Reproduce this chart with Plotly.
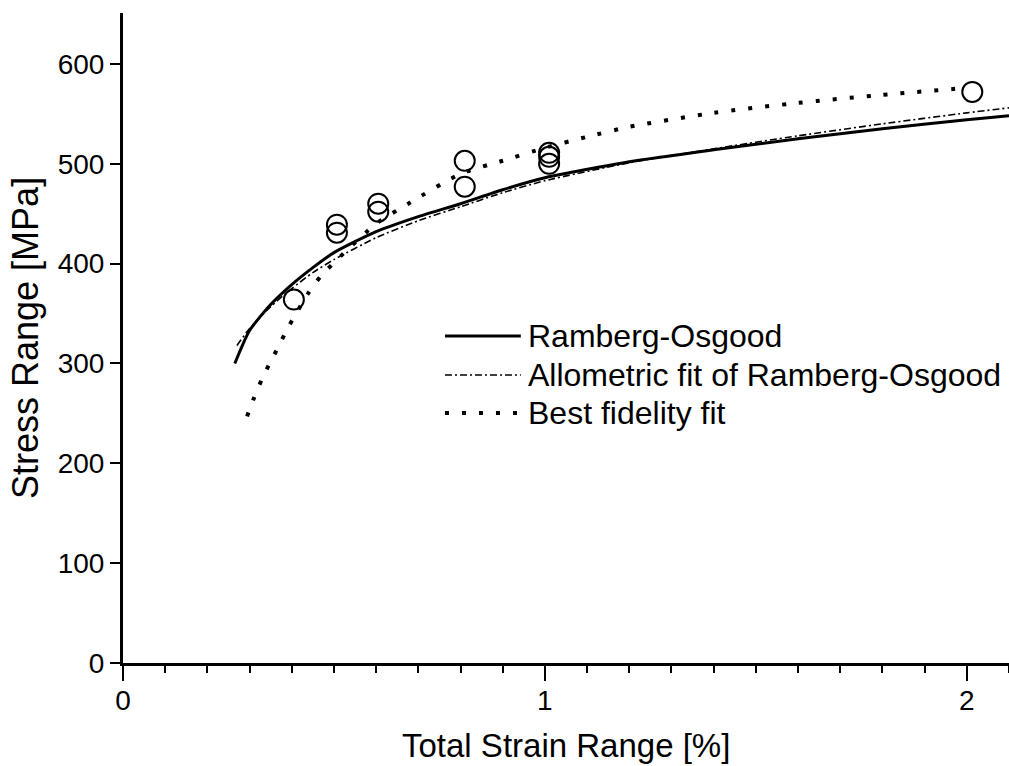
import plotly.graph_objects as go

# measured data points (open circles)
strain_pts = [0.405, 0.507, 0.507, 0.605, 0.605, 0.81, 0.81, 1.01, 1.01, 1.01, 2.013]
stress_pts = [364, 439, 431, 460, 452, 503, 477, 511, 507, 500, 572]

# Ramberg-Osgood curve
ro_x = [0.265, 0.30, 0.35, 0.40, 0.45, 0.50, 0.60, 0.70, 0.80, 0.90, 1.00, 1.20, 1.40, 1.60, 1.80, 2.00, 2.10]
ro_y = [300, 333, 359, 379, 396, 411, 432, 447, 460, 474, 486, 502, 514, 525, 535, 544, 548]

# Allometric fit of Ramberg-Osgood
al_x = [0.27, 0.30, 0.35, 0.40, 0.45, 0.50, 0.60, 0.70, 0.80, 0.90, 1.00, 1.20, 1.40, 1.60, 1.80, 2.00, 2.10]
al_y = [318, 335, 357, 375, 391, 404, 426, 443, 457, 471, 483, 501, 515, 528, 540, 551, 556]

# Best fidelity fit
bf_x = [0.294, 0.31, 0.33, 0.35, 0.37, 0.39, 0.44, 0.47, 0.51, 0.60, 0.68, 0.80, 0.90, 1.00, 1.10, 1.20, 1.40, 1.60, 1.80, 2.00]
bf_y = [247, 265, 285, 302, 318, 335, 371, 388, 405, 440, 461, 490, 503, 516, 527, 537, 551, 561, 569, 576]

legend_names = ["Ramberg-Osgood", "Allometric fit of Ramberg-Osgood", "Best fidelity fit"]

FONT = "Liberation Sans, Arial, sans-serif"
solid_style = dict(color="black", width=3)
dashdot_style = dict(color="black", width=1.6, dash="7px,3px,2px,3px")
dot_style = dict(color="black", width=4, dash="4px,13px")

fig = go.Figure()
fig.add_trace(go.Scatter(x=ro_x, y=ro_y, mode="lines", line=dict(shape="spline", smoothing=0.6, **solid_style),
                         showlegend=False))
fig.add_trace(go.Scatter(x=al_x, y=al_y, mode="lines", line=dict(shape="spline", smoothing=0.6, **dashdot_style),
                         showlegend=False))
fig.add_trace(go.Scatter(x=bf_x, y=bf_y, mode="lines", line=dict(shape="spline", smoothing=0.6, **dot_style),
                         showlegend=False))
fig.add_trace(go.Scatter(x=strain_pts, y=stress_pts, mode="markers",
                         marker=dict(symbol="circle-open", size=20, color="black", line=dict(width=2)),
                         showlegend=False))

# custom legend (layout decoration)
leg_rows = [0.503, 0.443, 0.3846]
leg_styles = [solid_style, dashdot_style, dot_style]
for yy, st, name in zip(leg_rows, leg_styles, legend_names):
    fig.add_shape(type="line", xref="paper", yref="paper", x0=0.3634, x1=0.449, y0=yy, y1=yy,
                  line=st)
    fig.add_annotation(xref="paper", yref="paper", x=0.455, y=yy, xanchor="left", yanchor="middle",
                       text=name, showarrow=False, font=dict(family=FONT, size=32, color="black"))

fig.add_annotation(xref="paper", yref="paper", x=0.5, y=0, yshift=-82, xanchor="center", yanchor="middle",
                   text="Total Strain Range [%]", showarrow=False,
                   font=dict(family=FONT, size=33, color="black"))
fig.add_annotation(xref="paper", yref="paper", x=0, y=0.5, xshift=-98, xanchor="center", yanchor="middle",
                   text="Stress Range [MPa]", textangle=-90, showarrow=False,
                   font=dict(family=FONT, size=36, color="black"))

fig.update_layout(
    width=1009, height=766,
    margin=dict(l=123, r=0, t=13, b=103),
    paper_bgcolor="white", plot_bgcolor="white",
    font=dict(family=FONT, color="black"),
    xaxis=dict(range=[0, 2.1], tickmode="linear", tick0=0, dtick=1, ticks="outside", ticklen=15, tickwidth=2,
               tickcolor="black", showline=True, linewidth=3, linecolor="black", showgrid=False, zeroline=False,
               tickfont=dict(family=FONT, size=28, color="black"), ticklabelstandoff=-5,
               minor=dict(dtick=0.1, tick0=0, ticks="outside", ticklen=7, tickwidth=2, tickcolor="black",
                          showgrid=False)),
    yaxis=dict(range=[0, 651], tickmode="linear", tick0=0, dtick=100, ticks="outside", ticklen=10, tickwidth=2,
               tickcolor="black", showline=True, linewidth=3, linecolor="black", showgrid=False, zeroline=False,
               tickfont=dict(family=FONT, size=28, color="black")),
)

fig.write_html("out.html")
